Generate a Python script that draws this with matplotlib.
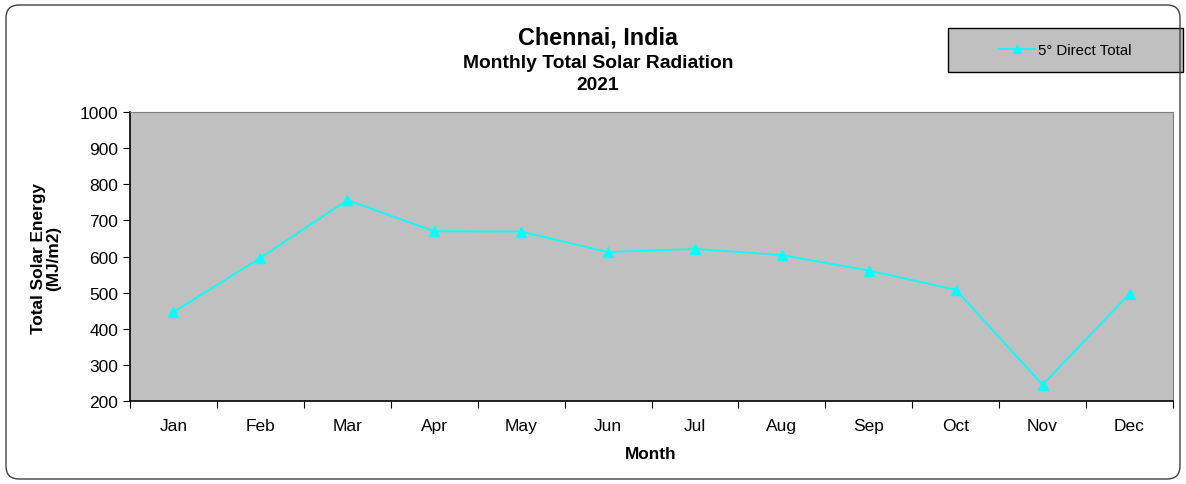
import matplotlib
matplotlib.use("Agg")
import matplotlib.pyplot as plt
from matplotlib.patches import FancyBboxPatch, Rectangle

months = ["Jan", "Feb", "Mar", "Apr", "May", "Jun", "Jul", "Aug", "Sep", "Oct", "Nov", "Dec"]
direct_total = [446, 596, 756, 670, 669, 612, 621, 604, 561, 508, 245, 497]
series_label = "5° Direct Total"
yticks = [200, 300, 400, 500, 600, 700, 800, 900, 1000]

W, H = 1186, 485
plt.rcParams['font.family'] = ['Liberation Sans', 'DejaVu Sans']
fig = plt.figure(figsize=(W / 100, H / 100), dpi=100)

# rounded border (in inches so corners are circular)
border = FancyBboxPatch((0.06, 0.05), 11.74, 4.74,
                        boxstyle="round,pad=0,rounding_size=0.13",
                        transform=fig.dpi_scale_trans, fill=False,
                        edgecolor="#404040", linewidth=1.0)
fig.patches.append(border)

left, right, top, bottom = 130, 1173, 113, 402
ax = fig.add_axes([left / W, 1 - bottom / H, (right - left) / W, (bottom - top) / H])
ax.set_facecolor("#c0c0c0")

x = list(range(len(months)))
ax.plot(x, direct_total, color="#00ffff", linewidth=1.3, marker="^", markersize=7,
        label=series_label)
ax.set_xlim(-0.5, len(months) - 0.5)
ax.set_ylim(200, 1000)
ax.set_yticks(yticks)
ax.set_xticks([i - 0.5 for i in range(len(months) + 1)], minor=False)
ax.set_xticklabels([])
ax.set_xticks(x, minor=True)
ax.set_xticklabels(months, minor=True)
ax.tick_params(axis="x", which="major", direction="out", length=5, color="black")
ax.tick_params(axis="x", which="minor", length=0, pad=12, labelsize=12.5)
ax.tick_params(axis="y", direction="out", length=5, labelsize=12.5)
for s in ["top", "right"]:
    ax.spines[s].set_color("#808080")
for s in ["left", "bottom"]:
    ax.spines[s].set_color("black")
    ax.spines[s].set_linewidth(1.2)

fig.text(651 / W, 1 - 455 / H, "Month", ha="center", va="center",
         fontsize=12.4, fontweight="bold")
fig.text(46 / W, 1 - 258 / H, "Total Solar Energy\n(MJ/m2)", rotation=90,
         ha="center", va="center", fontsize=12.4, fontweight="bold", linespacing=1.0)

fig.text(598 / W, 1 - 38 / H, "Chennai, India", ha="center", va="center",
         fontsize=16.8, fontweight="bold")
fig.text(598 / W, 1 - 63 / H, "Monthly Total Solar Radiation", ha="center", va="center",
         fontsize=13.9, fontweight="bold")
fig.text(598 / W, 1 - 85 / H, "2021", ha="center", va="center",
         fontsize=13.9, fontweight="bold")

# legend box
lx0, lx1, ly0, ly1 = 948, 1183, 29, 73
fig.patches.append(Rectangle((lx0 / W, 1 - ly1 / H), (lx1 - lx0) / W, (ly1 - ly0) / H,
                             transform=fig.transFigure, facecolor="#c0c0c0",
                             edgecolor="black", linewidth=1.0, zorder=0))
leg = fig.legend(loc="center", bbox_to_anchor=((lx0 + lx1) / 2 / W, 1 - 51 / H),
                 frameon=False, fontsize=10.8, handlelength=2.4, handletextpad=0.2,
                 markerscale=0.8)

fig.savefig("out.png", dpi=100)
